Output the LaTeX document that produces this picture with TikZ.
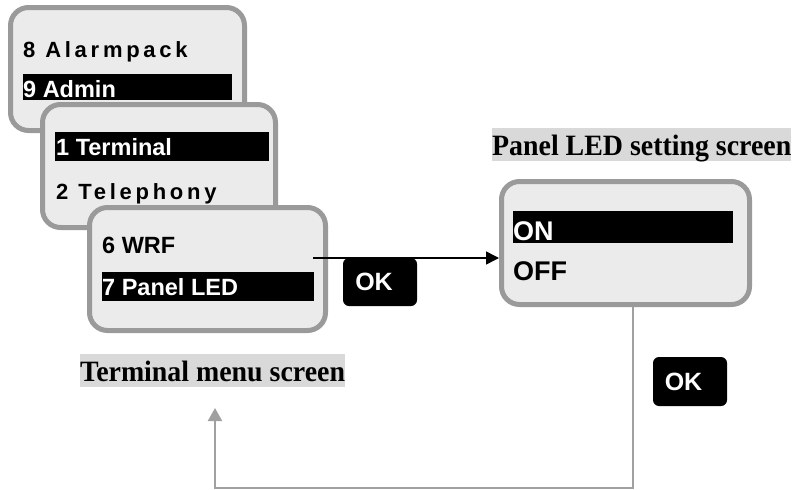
\documentclass[tikz,border=0pt]{standalone}
\usepackage{fontspec}
\setmainfont{Liberation Serif}
\setsansfont{Liberation Sans}
\newfontfamily\capfamily{Liberation Serif}[FakeStretch=0.945]
\usetikzlibrary{arrows.meta}
\definecolor{scrfill}{HTML}{EBEBEB}
\definecolor{scrborder}{HTML}{9A9A9A}
\definecolor{labelbg}{HTML}{D9D9D9}
\definecolor{retline}{HTML}{A0A0A0}
\newcommand{\menufont}{\sffamily\bfseries\fontsize{23.5}{27}\selectfont}
\newcommand{\spacedfont}{\sffamily\bfseries\fontsize{22}{26}\selectfont\addfontfeature{LetterSpace=17}}
\newcommand{\bigmenufont}{\sffamily\bfseries\fontsize{27}{31}\selectfont}
\newcommand{\titlefont}{\capfamily\bfseries\fontsize{29.5}{33}\selectfont}
\tikzset{
  screen/.style={draw=scrborder, line width=5pt, fill=scrfill, rounded corners=18pt, inner sep=0pt},
  hilite/.style={fill=black, inner sep=0pt},
  menutext/.style={anchor=base west, inner sep=0pt, font=\menufont},
  spacedtext/.style={anchor=base west, inner sep=0pt, font=\spacedfont},
  bigtext/.style={anchor=base west, inner sep=0pt, font=\bigmenufont},
  okbtn/.style={fill=black, rounded corners=6pt, text=white, font=\sffamily\bfseries\fontsize{25}{28}\selectfont, minimum width=74pt, inner sep=0pt},
  caption/.style={fill=labelbg, inner xsep=0pt, inner ysep=0pt, font=\titlefont, text height=27pt, text depth=6pt},
}
\begin{document}
\begin{tikzpicture}[x=1pt,y=-1pt]
\useasboundingbox (0,0) rectangle (793,490);
% screen 1
\node[screen, minimum width=234pt, minimum height=123pt] (sc1) at (127.5,69) {};
\node[hilite, minimum width=209pt, minimum height=26pt] (h1) at (127.5,87) {};
\node[spacedtext] (t8) at (23,57) {8 Alarmpack};
\node[menutext, text=white] (t9) at (23,97) {9 Admin};
% screen 2
\node[screen, minimum width=233pt, minimum height=123pt] (sc2) at (159,166) {};
\node[hilite, minimum width=214pt, minimum height=29pt] (h2) at (162,146.5) {};
\node[menutext, text=white] (t1) at (56,155) {1 Terminal};
\node[spacedtext] (t2) at (56,199) {2 Telephony};
% screen 3
\node[screen, minimum width=236pt, minimum height=123pt] (sc3) at (207.5,269) {};
\node[hilite, minimum width=212pt, minimum height=29pt] (h3) at (208,286.5) {};
\node[menutext] (t6) at (102,253) {6 WRF};
\node[menutext, text=white] (t7) at (102,295) {7 Panel LED};
% screen 4
\node[screen, minimum width=248pt, minimum height=123pt] (sc4) at (625.5,243) {};
\node[hilite, minimum width=220pt, minimum height=32pt] (h4) at (623,227) {};
\node[bigtext, text=white] (ton) at (513,240) {ON};
\node[bigtext] (toff) at (513,280) {OFF};
% captions
\node[caption, anchor=north west] (cap4) at (492,128) {Panel LED setting screen};
\node[caption, anchor=north west] (cap1) at (80,354) {Terminal menu screen};
% OK buttons
\node[okbtn, minimum height=48pt] (ok1) at (380,282) {OK\kern12pt};
\node[okbtn, minimum height=49pt] (ok2) at (690,381.5) {OK\kern13pt};
% arrow to setting screen
\coordinate (a1) at (313,258);
\draw[line width=1.5pt, -{Triangle[length=13pt,width=13pt]}] (a1) -- (sc4.west |- a1);
% return arrow
\coordinate (r1) at (633,488);
\coordinate (r2) at (215,488);
\coordinate (r3) at (215,408);
\draw[retline, line width=2pt, -{Triangle[length=13pt,width=14pt]}] (sc4.south -| r1) -- (r1) -- (r2) -- (r3);
\end{tikzpicture}
\end{document}
